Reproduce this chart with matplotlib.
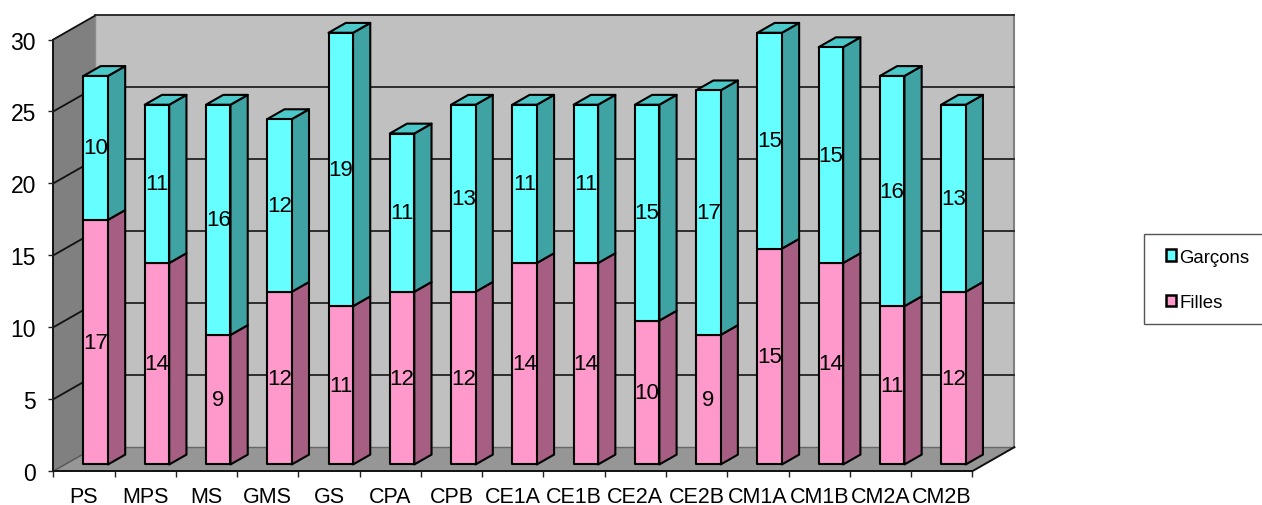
import matplotlib
matplotlib.use("Agg")
import matplotlib.pyplot as plt
from matplotlib.patches import Polygon, Rectangle
from matplotlib.lines import Line2D

plt.rcParams["font.family"] = ["Liberation Sans", "DejaVu Sans"]

classes = ["PS", "MPS", "MS", "GMS", "GS", "CPA", "CPB", "CE1A", "CE1B",
           "CE2A", "CE2B", "CM1A", "CM1B", "CM2A", "CM2B"]
filles = [17, 14, 9, 12, 11, 12, 12, 14, 14, 10, 9, 15, 14, 11, 12]
garcons = [10, 11, 16, 12, 19, 11, 13, 11, 11, 15, 17, 15, 15, 16, 13]
y_ticks = [0, 5, 10, 15, 20, 25, 30]

# fake 3D: depth 1 is the back wall, shifted right and up in data units
DX = 42 / 61.2
DY = 24 / 14.38
BAR_W = 0.40
BAR_D0 = 0.28
BAR_D1 = 0.69


def sk(x, y, d=0.0):
    return (x + d * DX, y + d * DY)


def poly(ax, pts, color, z, edge="none", lw=0.0):
    ax.add_patch(Polygon(pts, closed=True, facecolor=color, edgecolor=edge,
                         linewidth=lw, zorder=z, clip_on=False, joinstyle="round"))


def line(ax, p, q, color, lw, z):
    ax.add_line(Line2D([p[0], q[0]], [p[1], q[1]], color=color, linewidth=lw,
                       zorder=z, clip_on=False))


def draw_segment(ax, i, y0, y1, front, side, top, z):
    cx = i + 0.5
    x0 = cx - BAR_W / 2
    x1 = cx + BAR_W / 2
    a = sk(x0, y0, BAR_D0)
    b = sk(x1, y0, BAR_D0)
    c = sk(x1, y1, BAR_D0)
    d = sk(x0, y1, BAR_D0)
    e = sk(x1, y0, BAR_D1)
    f = sk(x1, y1, BAR_D1)
    g = sk(x0, y1, BAR_D1)
    poly(ax, [b, e, f, c], side, z, "black", 1.5)
    if top is not None:
        poly(ax, [d, c, f, g], top, z + 0.1, "black", 1.5)
    poly(ax, [a, b, c, d], front, z + 0.2, "black", 1.5)


fig = plt.figure(figsize=(12.62, 5.06), dpi=100)
ax = fig.add_axes([53.3 / 1262, (506 - 472.2) / 506, (972.3 - 53.3) / 1262, 431.7 / 506])
n = len(classes)
ax.set_xlim(0, n)
ax.set_ylim(0, 30)
ax.patch.set_visible(False)
for s in ["top", "right"]:
    ax.spines[s].set_visible(False)
for s in ["left", "bottom"]:
    ax.spines[s].set_linewidth(1.4)
    ax.spines[s].set_color("#111111")
    ax.spines[s].set_zorder(1.5)

# walls and floor
poly(ax, [sk(0, 0), sk(0, 30), sk(0, 30, 1), sk(0, 0, 1)], "#808080", 0.1)
poly(ax, [sk(0, 0, 1), sk(n, 0, 1), sk(n, 30, 1), sk(0, 30, 1)], "#C0C0C0", 0.1)
poly(ax, [sk(0, 0), sk(n, 0), sk(n, 0, 1), sk(0, 0, 1)], "#969696", 0.2)

for v in y_ticks:
    if v > 0:
        line(ax, sk(0, v), sk(0, v, 1), "#111111", 1.3, 0.5)
        line(ax, sk(0, v, 1), sk(n, v, 1), "#222222", 1.3, 0.5)
line(ax, sk(n, 0, 1), sk(n, 30, 1), "#808080", 1.5, 0.4)
line(ax, sk(0, 0, 1), sk(0, 30, 1), "#8c8c8c", 1.0, 0.4)
line(ax, sk(0, 0, 1), sk(n, 0, 1), "#666666", 1.0, 0.5)
line(ax, sk(n, 0), sk(n, 0, 1), "#111111", 1.4, 0.5)
line(ax, sk(0, 0), sk(0, 0, 1), "#555555", 1.0, 0.5)

# bars, left to right so each one overlaps the wall behind it
for i in range(n):
    z = 2 + i
    draw_segment(ax, i, 0, filles[i], "#FF99CC", "#A65F82", None, z)
    draw_segment(ax, i, filles[i], filles[i] + garcons[i], "#66FFFF", "#40A3A3", "#4CC8C8", z + 0.4)

for i in range(n):
    x, y = sk(i + 0.5, filles[i] / 2, BAR_D0)
    ax.text(x, y, str(filles[i]), ha="center", va="center", fontsize=16, color="black", zorder=50)
    x, y = sk(i + 0.5, filles[i] + garcons[i] / 2, BAR_D0)
    ax.text(x, y, str(garcons[i]), ha="center", va="center", fontsize=16, color="black", zorder=50)

ax.set_yticks(y_ticks)
ax.set_xticks(range(n + 1))
ax.set_xticklabels([])
ax.set_xticks([i + 0.5 for i in range(n)], minor=True)
ax.set_xticklabels(classes, minor=True)
ax.tick_params(axis="x", which="major", length=4.5, width=1.0, color="#222222")
ax.tick_params(axis="x", which="minor", length=0, pad=10.5, labelsize=15.5)
ax.tick_params(axis="y", length=3.6, width=1.0, color="#222222", pad=9, labelsize=16.5)

# legend box runs off the right edge of the picture
fig.add_artist(Rectangle((1143.5 / 1262, (506 - 325) / 506), 130 / 1262, 90 / 506,
                         transform=fig.transFigure, facecolor="white",
                         edgecolor="#555555", linewidth=1.0))
handles = [Rectangle((0, 0), 1, 1, facecolor="#66FFFF", edgecolor="black", linewidth=1.8),
           Rectangle((0, 0), 1, 1, facecolor="#FF99CC", edgecolor="black", linewidth=1.8)]
leg = fig.legend(handles, ["Garçons", "Filles"], loc="center left",
                 bbox_to_anchor=(1166 / 1262, (506 - 281) / 506), frameon=False,
                 fontsize=13.4, handlelength=0.55, handleheight=0.55, handletextpad=0.15,
                 labelspacing=1.55, borderpad=0, borderaxespad=0)

fig.savefig("out.png", dpi=100)
